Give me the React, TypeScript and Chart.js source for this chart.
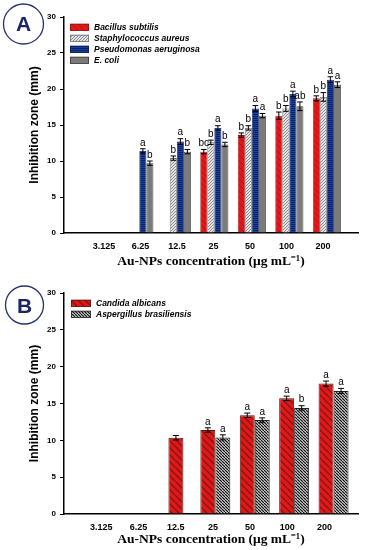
import React, { useEffect, useRef } from 'react';
import { Chart, registerables } from 'chart.js';
Chart.register(...registerables);

// ---------- data ----------
const concentrations = ['3.125', '6.25', '12.5', '25', '50', '100', '200'];
const yTicksMax = 30;

// Panel A (bacteria)
const bacillus = [null, null, null, 11.3, 13.6, 16.3, 18.7];
const bacillusErr = [0, 0, 0, 0.3, 0.3, 0.5, 0.35];
const bacillusLet = [null, null, null, 'bc', 'b', 'b', 'b'];
const staph = [null, null, 10.4, 12.6, 14.6, 17.3, 18.9];
const staphErr = [0, 0, 0.3, 0.3, 0.3, 0.4, 0.6];
const staphLet = [null, null, 'b', 'b', 'b', 'b', 'b'];
const pseudo = [null, 11.4, 12.7, 14.6, 17.3, 19.3, 21.3];
const pseudoErr = [0, 0.3, 0.4, 0.3, 0.4, 0.4, 0.4];
const pseudoLet = [null, 'a', 'a', 'a', 'a', 'a', 'a'];
const ecoli = [null, 9.7, 11.3, 12.3, 16.3, 17.6, 20.6];
const ecoliErr = [0, 0.3, 0.3, 0.3, 0.3, 0.6, 0.4];
const ecoliLet = [null, 'b', 'b', 'b', 'a', 'ab', 'a'];

// Panel B (fungi)
const candida = [null, null, 10.35, 11.4, 13.4, 15.7, 17.7];
const candidaErr = [0, 0, 0.3, 0.3, 0.3, 0.3, 0.35];
const candidaLet = [null, null, null, 'a', 'a', 'a', 'a'];
const asper = [null, null, null, 10.4, 12.75, 14.4, 16.7];
const asperErr = [0, 0, 0, 0.35, 0.3, 0.3, 0.35];
const asperLet = [null, null, null, 'a', 'a', 'b', 'a'];

const yTitle = 'Inhibition zone (mm)';
const xTitle = 'Au-NPs concentration (\u03bcg mL\u207b\u00b9)';

// ---------- helpers ----------
function diagPattern(bg: string, line: string, size: number, lw: number, dir: 'back' | 'fwd') {
  const c = document.createElement('canvas');
  c.width = size; c.height = size;
  const g = c.getContext('2d')!;
  g.fillStyle = bg; g.fillRect(0, 0, size, size);
  g.strokeStyle = line; g.lineWidth = lw;
  g.beginPath();
  for (const o of [-size, 0, size]) {
    if (dir === 'back') { g.moveTo(o, 0); g.lineTo(o + size, size); }
    else { g.moveTo(o, size); g.lineTo(o + size, 0); }
  }
  g.stroke();
  return g.createPattern(c, 'repeat')!;
}
function horizPattern(bg: string, line: string, size: number) {
  const c = document.createElement('canvas');
  c.width = size; c.height = size;
  const g = c.getContext('2d')!;
  g.fillStyle = bg; g.fillRect(0, 0, size, size);
  g.fillStyle = line; g.fillRect(0, 0, size, 1);
  return g.createPattern(c, 'repeat')!;
}
const toXY = (arr: (number | null)[]) => arr.map((v, i) => ({ x: i + 1, y: v }));

const errorBarPlugin = {
  id: 'errorBars',
  afterDatasetsDraw(chart: any) {
    const ctx = chart.ctx;
    const ys = chart.scales.y;
    chart.data.datasets.forEach((ds: any, di: number) => {
      const meta = chart.getDatasetMeta(di);
      meta.data.forEach((el: any, i: number) => {
        const v = ds.data[i].y;
        if (v == null) return;
        const e = ds.errors[i] || 0;
        const top = ys.getPixelForValue(v + e);
        const bot = ys.getPixelForValue(v - e);
        const hw = Math.min(3, el.width * 0.4);
        ctx.save();
        ctx.strokeStyle = '#000';
        ctx.lineWidth = 1;
        ctx.beginPath();
        ctx.moveTo(el.x, top); ctx.lineTo(el.x, bot);
        ctx.moveTo(el.x - hw, top); ctx.lineTo(el.x + hw, top);
        ctx.moveTo(el.x - hw, bot); ctx.lineTo(el.x + hw, bot);
        ctx.stroke();
        const L = ds.letters[i];
        if (L) {
          ctx.fillStyle = '#000';
          ctx.font = '10px "Liberation Sans", Arial, sans-serif';
          ctx.textAlign = 'center';
          ctx.textBaseline = 'bottom';
          ctx.fillText(L, el.x, top - 1);
        }
        ctx.restore();
      });
    });
  },
};

const panelLegendPlugin = {
  id: 'panelLegend',
  afterDraw(chart: any, _args: any, opts: any) {
    const ctx = chart.ctx;
    ctx.save();
    chart.data.datasets.forEach((ds: any, i: number) => {
      const cy = opts.y + i * opts.dy;
      ctx.fillStyle = ds.backgroundColor;
      ctx.fillRect(opts.x, cy - 3.5, opts.w, 7);
      ctx.strokeStyle = ds.borderColor;
      ctx.lineWidth = 0.8;
      ctx.strokeRect(opts.x + 0.4, cy - 3.1, opts.w - 0.8, 6.2);
      ctx.fillStyle = '#000';
      ctx.font = 'italic bold 8.5px "Liberation Sans", Arial, sans-serif';
      ctx.textAlign = 'left';
      ctx.textBaseline = 'middle';
      ctx.fillText(ds.label, opts.tx, cy);
    });
    ctx.restore();
  },
};

const badgePlugin = {
  id: 'badge',
  afterDraw(chart: any, _args: any, opts: any) {
    const ctx = chart.ctx;
    ctx.save();
    ctx.strokeStyle = '#27306e';
    ctx.lineWidth = 1.3;
    ctx.beginPath();
    ctx.arc(opts.cx, opts.cy, opts.r, 0, Math.PI * 2);
    ctx.stroke();
    ctx.fillStyle = '#1c2566';
    ctx.font = 'bold 21px "Liberation Sans", Arial, sans-serif';
    ctx.textAlign = 'center';
    ctx.textBaseline = 'middle';
    ctx.fillText(opts.letter, opts.cx, opts.cy + opts.dyText);
    ctx.restore();
  },
};

function buildOptions(o: {
  labMin: number; labMax: number; barMin: number; barMax: number;
  top: number; xHeight: number; titlePadBottom: number; tickPad: number;
  legend: any; badge: any;
}) {
  return {
    responsive: false,
    animation: false,
    devicePixelRatio: 1,
    layout: { padding: { left: 0, right: 20, top: o.top, bottom: 0 } },
    plugins: {
      legend: { display: false },
      tooltip: { enabled: false },
      panelLegend: o.legend,
      badge: o.badge,
    },
    scales: {
      x: {
        type: 'linear',
        position: 'bottom',
        offset: false,
        min: o.labMin,
        max: o.labMax,
        afterBuildTicks: (s: any) => { s.ticks = concentrations.map((_, i) => ({ value: i + 1 })); },
        afterFit: (s: any) => { s.height = o.xHeight; },
        ticks: {
          callback: (v: any) => concentrations[Math.round(v) - 1],
          font: { family: '"Liberation Sans", Arial, sans-serif', weight: 'bold', size: 9 },
          color: '#000',
          padding: o.tickPad,
          maxRotation: 0,
          autoSkip: false,
        },
        grid: { display: false, offset: false },
        border: { display: true, color: '#000', width: 1.5 },
        title: {
          display: true,
          text: xTitle,
          color: '#000',
          font: { family: '"Liberation Serif", "Times New Roman", serif', weight: 'bold', size: 13.5 },
          padding: { top: 0, bottom: o.titlePadBottom },
        },
      },
      xb: {
        type: 'linear',
        display: false,
        offset: false,
        grid: { offset: false },
        min: o.barMin,
        max: o.barMax,
      },
      y: {
        type: 'linear',
        min: 0,
        max: yTicksMax,
        afterFit: (s: any) => { s.width = 64; },
        ticks: {
          stepSize: 5,
          font: { family: '"Liberation Sans", Arial, sans-serif', weight: 'bold', size: 8 },
          color: '#000',
          padding: 4,
        },
        grid: { display: true, drawOnChartArea: false, drawTicks: true, tickLength: 4, color: '#000', lineWidth: 1 },
        border: { display: true, color: '#000', width: 1.5 },
        title: {
          display: true,
          text: yTitle,
          color: '#000',
          font: { family: '"Liberation Sans", Arial, sans-serif', weight: 'bold', size: 12 },
          padding: { top: 27, bottom: 0 },
        },
      },
    },
  } as any;
}

function buildA() {
  const pBac = diagPattern('#e3161c', '#b3120f', 6, 1, 'back');
  const pSta = diagPattern('#e4e4e4', '#8a8a8a', 3, 1, 'fwd');
  const pPse = horizPattern('#1d3f9e', '#0d2463', 2);
  const common = { xAxisID: 'xb', barPercentage: 1, categoryPercentage: 0.75, borderWidth: 0.8 };
  return {
    type: 'bar',
    data: {
      datasets: [
        { label: 'Bacillus subtilis', data: toXY(bacillus), errors: bacillusErr, letters: bacillusLet, backgroundColor: pBac, borderColor: '#8e1410', ...common },
        { label: 'Staphylococcus aureus', data: toXY(staph), errors: staphErr, letters: staphLet, backgroundColor: pSta, borderColor: '#6e6e6e', ...common },
        { label: 'Pseudomonas aeruginosa', data: toXY(pseudo), errors: pseudoErr, letters: pseudoLet, backgroundColor: pPse, borderColor: '#0b1d55', ...common },
        { label: 'E. coli', data: toXY(ecoli), errors: ecoliErr, letters: ecoliLet, backgroundColor: '#7b7b7b', borderColor: '#3c3c3c', ...common },
      ],
    },
    options: buildOptions({
      labMin: -0.093, labMax: 7.96, barMin: -0.009, barMax: 7.83,
      top: 17, xHeight: 45, titlePadBottom: 8, tickPad: 0,
      legend: { x: 70, y: 27.3, dy: 11, w: 19, tx: 94 },
      badge: { letter: 'A', cx: 23.5, cy: 24, r: 20, dyText: 1 },
    }),
    plugins: [errorBarPlugin, panelLegendPlugin, badgePlugin],
  } as any;
}

function buildB() {
  const pCan = diagPattern('#e3161c', '#7e1a0e', 7, 1.4, 'back');
  const pAsp = diagPattern('#ffffff', '#111111', 3, 1.3, 'back');
  const common = { xAxisID: 'xb', barPercentage: 1, categoryPercentage: 0.76, maxBarThickness: 15, skipNull: true, borderWidth: 1 };
  return {
    type: 'bar',
    data: {
      datasets: [
        { label: 'Candida albicans', data: toXY(candida), errors: candidaErr, letters: candidaLet, backgroundColor: pCan, borderColor: '#5a180a', ...common },
        { label: 'Aspergillus brasiliensis', data: toXY(asper), errors: asperErr, letters: asperLet, backgroundColor: pAsp, borderColor: '#222222', ...common },
      ],
    },
    options: buildOptions({
      labMin: -0.003, labMax: 7.9, barMin: 0.16, barMax: 7.62,
      top: 15, xHeight: 36, titlePadBottom: 2, tickPad: 0,
      legend: { x: 71, y: 25.3, dy: 11, w: 20, tx: 96 },
      badge: { letter: 'B', cx: 24.5, cy: 27, r: 19, dyText: 2 },
    }),
    plugins: [errorBarPlugin, panelLegendPlugin, badgePlugin],
  } as any;
}

export default function App() {
  const refA = useRef<HTMLCanvasElement>(null);
  const refB = useRef<HTMLCanvasElement>(null);
  useEffect(() => {
    const a = new Chart(refA.current!, buildA());
    const b = new Chart(refB.current!, buildB());
    return () => { a.destroy(); b.destroy(); };
  }, []);
  return (
    <div style={{ position: 'absolute', left: 0, top: 0, width: 378, height: 550, background: '#fff' }}>
      <canvas ref={refA} width={378} height={278} style={{ display: 'block', width: 378, height: 278 }} />
      <canvas ref={refB} width={378} height={272} style={{ display: 'block', width: 378, height: 272 }} />
    </div>
  );
}
